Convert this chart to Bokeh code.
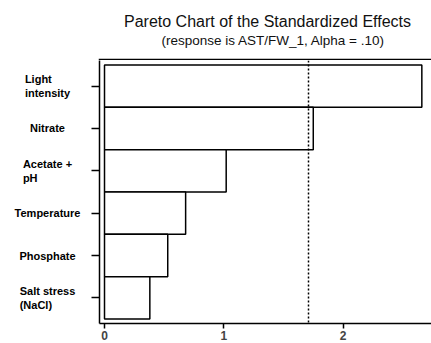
from bokeh.plotting import figure
from bokeh.models import (ColumnDataSource, FactorRange, Range1d, Span, FixedTicker,
                          LinearAxis, CustomJSTickFormatter)
from bokeh.layouts import column, row
from bokeh.core.properties import value
from bokeh.embed import file_html
from bokeh.resources import INLINE

# Standardized effects, largest first
factors = ["Light intensity", "Nitrate", "Acetate + pH", "Temperature",
           "Phosphate", "Salt stress (NaCl)"]
factor_labels = ["Light\nintensity", "Nitrate", "Acetate +\npH", "Temperature",
                 "Phosphate", "Salt stress\n(NaCl)"]
effects = [2.66, 1.75, 1.02, 0.68, 0.53, 0.38]
critical_value = 1.71
x_ticks = [0, 1, 2]

title_text = "Pareto Chart of the Standardized Effects"
subtitle_text = "(response is AST/FW_1, Alpha = .10)"

FONT = "Liberation Sans"
W, H = 431, 343
TOP, BOTTOM, LEFT = 60, 20, 99
TICK = 8
AXW = 10

src = ColumnDataSource(dict(factor=factors, label=factor_labels, effect=effects))
y_range = FactorRange(factors=list(reversed(factors)), range_padding=0.035)
empty = CustomJSTickFormatter(code="return ''")


def bare(fig):
    fig.axis.visible = False
    fig.grid.visible = False
    fig.outline_line_color = None
    fig.background_fill_color = "white"
    fig.border_fill_color = "white"
    return fig


# --- heading strip (y grows downward, in pixels) ---
head = bare(figure(width=W, height=TOP, output_backend="svg", toolbar_location=None,
                   x_range=Range1d(0, W), y_range=Range1d(TOP, 0),
                   min_border=0))
head.text(x=[267], y=[21], text=[title_text], text_align="center",
          text_baseline="middle", text_font=value(FONT), text_font_size="16px",
          text_color="#111111")
head.text(x=[273], y=[40], text=[subtitle_text], text_align="center",
          text_baseline="middle", text_font=value(FONT), text_font_size="13.5px",
          text_color="#111111")
# top edge of the plot frame, running along the bottom of the heading strip
head.segment(x0=[LEFT - 0.75], x1=[W], y0=[TOP - 1], y1=[TOP - 1],
             line_color="black", line_width=1.5)

# --- factor names, sharing the bar chart's categorical axis ---
names = bare(figure(width=LEFT - AXW, height=H - TOP, output_backend="svg",
                    toolbar_location=None, x_range=Range1d(0, LEFT - AXW),
                    y_range=y_range, min_border=0, min_border_bottom=BOTTOM))
names.text(x=47, y="factor", text="label", source=src, anchor="center",
           text_align="left", text_baseline="middle", text_font=value(FONT),
           text_font_style="bold", text_font_size="11px", text_color="black",
           text_line_height=1.15)

# --- bars ---
p = figure(width=W - LEFT + AXW, height=H - TOP, output_backend="svg",
           toolbar_location=None, y_range=y_range, x_range=Range1d(-0.042, 2.741),
           y_axis_location=None,
           min_border=0, min_border_left=AXW, min_border_bottom=BOTTOM)

p.hbar(y="factor", left=0, right="effect", height=1.0, source=src,
       fill_color="white", line_color="black", line_width=1.5)

p.add_layout(Span(location=critical_value, dimension="height",
                  line_color="black", line_width=1.5, line_dash="2 2"))

p.grid.visible = False
p.outline_line_color = None
p.background_fill_color = "white"
p.border_fill_color = "white"

xa = p.xaxis[0]
xa.ticker = FixedTicker(ticks=x_ticks)
xa.axis_line_width = 1.5
xa.major_tick_line_width = 1.5
xa.major_tick_out = 5
xa.major_tick_in = 0
xa.minor_tick_line_color = None
xa.major_label_text_font = FONT
xa.major_label_text_font_style = "bold"
xa.major_label_text_font_size = "12px"
xa.major_label_standoff = 2

# left axis: line and a tick at the middle of every factor band
ya = LinearAxis(ticker=FixedTicker(ticks=[i + 0.5 for i in range(len(factors))]),
                formatter=empty, axis_line_width=1.5, major_tick_line_width=1.5,
                major_tick_out=TICK, major_tick_in=0, minor_tick_line_color=None,
                major_label_standoff=0)
p.add_layout(ya, "left")

layout = column(head, row(names, p, spacing=0), spacing=0)

open("out.html", "w").write(file_html(layout, INLINE))
